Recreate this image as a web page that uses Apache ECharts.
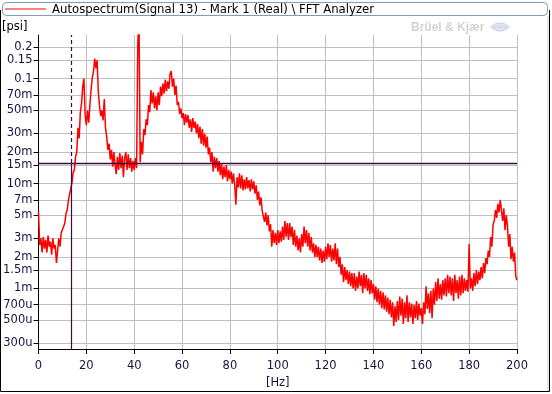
<!DOCTYPE html>
<html><head><meta charset="utf-8">
<script src="https://cdn.jsdelivr.net/npm/echarts@6/dist/echarts.min.js"></script>
<style>html,body{margin:0;padding:0;background:#fff}#c{width:552px;height:394px}</style>
</head><body><div id="c"></div>
<script>
// Frequency grid (Hz)
const freqStart = 0;
const freqStep = 0.5;
// Autospectrum amplitude in milli-psi, one value per 0.5 Hz from 0 to 200 Hz
const amplitudeMilliPsi = [
  5.4, 2.6, 3.0, 2.2, 3.1, 2.4, 2.9, 2.2, 3.2, 2.5, 2.8, 2.1, 3.0, 2.4, 2.6, 1.75, 2.3, 3.0, 2.5, 3.4,
  3.3, 3.9, 4.2, 5.2, 5.6, 6.9, 7.2, 9.0, 10.2, 12.8, 13.5, 18, 20, 34, 27, 48, 58, 85, 100, 45,
  36, 50, 38, 56, 80, 102, 118, 155, 125, 150, 75, 55, 44, 50, 40, 64, 34, 28, 21, 24,
  17, 21, 14.5, 20, 15, 12.3, 18, 13.5, 19.5, 14, 18.5, 11.5, 17.5, 20, 13.5, 19, 14, 17.5, 13, 16.5,
  13.5, 17.5, 14, 215, 400, 16, 25, 19, 33, 29, 41, 36, 56, 48, 78, 58, 74, 52, 68, 50,
  74, 56, 84, 68, 90, 72, 98, 76, 94, 80, 112, 118, 84, 100, 70, 86, 56, 60, 46, 52,
  42, 47, 36, 46, 38, 45, 34, 41, 31, 42, 34, 39, 30, 37, 27, 35, 24, 33, 23, 30,
  22, 28, 19, 22, 16, 20, 13, 18, 14, 17.5, 13, 16.5, 12, 15.5, 11, 14.5, 11.5, 15, 10.5, 13.5,
  11, 13, 10, 12.5, 9.8, 6.3, 11.5, 9.2, 12.5, 9, 12, 8.6, 11, 8.8, 11.5, 9, 10.8, 8.4, 11, 8.8,
  10.5, 8, 9.6, 7, 8.4, 6.2, 7.4, 5.5, 5.6, 4.3, 5.3, 4.0, 5.0, 3.5, 4.1, 2.5, 3.6, 2.7, 3.4, 2.6,
  3.6, 2.7, 3.5, 2.8, 3.9, 2.9, 4.4, 3.1, 4.2, 2.9, 4.2, 3.1, 3.9, 2.6, 3.6, 2.5, 3.2, 2.3, 3.0, 2.2,
  3.3, 2.5, 3.9, 2.7, 3.6, 2.5, 3.4, 2.3, 3.1, 2.2, 2.7, 2.0, 2.6, 2.0, 2.5, 1.85, 2.4, 1.75, 2.3, 1.8,
  2.5, 1.9, 2.7, 2.0, 2.6, 1.8, 2.4, 1.85, 2.7, 1.7, 2.4, 1.6, 2.0, 1.35, 1.7, 1.15, 1.6, 1.2, 1.5, 1.1,
  1.45, 1.05, 1.4, 1.0, 1.4, 0.95, 1.3, 1.0, 1.45, 1.05, 1.35, 0.9, 1.4, 1.0, 1.35, 0.95, 1.25, 0.88, 1.2, 0.9,
  1.1, 0.78, 1.05, 0.74, 1.0, 0.7, 0.95, 0.65, 0.92, 0.63, 0.86, 0.6, 0.82, 0.57, 0.78, 0.53, 0.74, 0.44, 0.68, 0.48,
  0.76, 0.5, 0.84, 0.55, 0.8, 0.46, 0.74, 0.52, 0.86, 0.48, 0.74, 0.53, 0.72, 0.46, 0.7, 0.52, 0.76, 0.5, 0.72, 0.55,
  0.65, 0.46, 0.74, 0.57, 1.05, 0.64, 0.9, 0.58, 0.95, 0.52, 1.0, 0.7, 1.15, 0.76, 1.25, 0.8, 1.1, 0.78, 1.2, 0.86,
  1.25, 0.84, 1.35, 0.9, 1.3, 0.86, 1.25, 0.76, 1.35, 0.9, 1.2, 0.8, 1.3, 0.86, 1.35, 0.9, 1.25, 0.95, 1.2, 0.93,
  2.65, 1.0, 1.25, 0.95, 1.4, 1.05, 1.5, 1.1, 1.45, 1.2, 1.6, 1.25, 1.75, 1.4, 1.95, 1.7, 2.3, 2.0, 3.1, 2.5,
  4.1, 4.4, 5.6, 4.7, 6.4, 5.3, 7.0, 5.6, 4.4, 5.8, 3.6, 5.0, 4.0, 2.5, 3.3, 1.9, 2.5, 1.8, 2.2, 1.3, 1.2
];
// Y axis tick values (psi) and their labels
const yTickValues = [0.2, 0.15, 0.1, 0.07, 0.05, 0.03, 0.02, 0.015, 0.01, 0.007, 0.005, 0.003, 0.002, 0.0015, 0.001, 0.0007, 0.0005, 0.0003];
const yTickLabels = ['0.2', '0.15', '0.1', '70m', '50m', '30m', '20m', '15m', '10m', '7m', '5m', '3m', '2m', '1.5m', '1m', '700u', '500u', '300u'];
const yRange = [0.000265, 0.2606];
const xRange = [0, 200];
const xTickStep = 20;
// Cursor (marker) position
const cursorX = 13.65;
const cursorY = 0.0157;

const titleText = 'Autospectrum(Signal 13) - Mark 1 (Real) \\ FFT Analyzer';

const seriesData = amplitudeMilliPsi.map((v, i) => [freqStart + i * freqStep, v / 1000]);

function yLabel(v) {
  for (let i = 0; i < yTickValues.length; i++) {
    if (Math.abs(v - yTickValues[i]) / yTickValues[i] < 1e-6) return yTickLabels[i];
  }
  return '';
}

const labelColor = '#141446';
const cursorColor = '#3c0c3c';
const chart = echarts.init(document.getElementById('c'), null, {renderer: 'canvas'});
chart.setOption({
  animation: false,
  backgroundColor: '#ffffff',
  grid: {left: 38, top: 35, width: 479, height: 320, containLabel: false},
  xAxis: {
    type: 'value', min: xRange[0], max: xRange[1], interval: xTickStep,
    name: '[Hz]', nameLocation: 'middle', nameGap: 28,
    nameTextStyle: {fontFamily: 'DejaVu Sans', fontSize: 11.5, color: labelColor},
    axisLine: {show: true, onZero: false, lineStyle: {color: '#000', width: 1}},
    axisTick: {show: true, inside: false, length: 5, lineStyle: {color: '#000'}},
    axisLabel: {fontFamily: 'DejaVu Sans', fontSize: 11.5, color: labelColor, margin: 11},
    splitLine: {show: true, lineStyle: {color: '#c0c0c0', width: 1}}
  },
  yAxis: {
    type: 'log', logBase: 10, min: yRange[0], max: yRange[1],
    axisLine: {show: true, lineStyle: {color: '#000', width: 1}},
    axisTick: {show: true, inside: false, length: 5, lineStyle: {color: '#000'}, customValues: yTickValues},
    axisLabel: {fontFamily: 'DejaVu Sans', fontSize: 11.5, color: labelColor, margin: 6, customValues: yTickValues, formatter: yLabel},
    splitLine: {show: true, lineStyle: {color: '#c0c0c0', width: 1}},
    minorTick: {show: false}, minorSplitLine: {show: false}
  },
  series: [{
    type: 'line', data: seriesData, showSymbol: false, symbol: 'none', clip: true,
    lineStyle: {color: '#ff0000', width: 1.5}, itemStyle: {color: '#ff0000'},
    markLine: {
      silent: true, symbol: 'none', animation: false,
      label: {show: false},
      data: [
        [{coord: [xRange[0], cursorY], lineStyle: {color: cursorColor, width: 1.3, type: 'solid'}}, {coord: [xRange[1], cursorY]}],
        [{coord: [cursorX, yRange[0]], lineStyle: {color: cursorColor, width: 1.2, type: 'solid'}}, {coord: [cursorX, cursorY]}],
        [{coord: [cursorX, cursorY], lineStyle: {color: cursorColor, width: 1.2, type: [4, 3]}}, {coord: [cursorX, yRange[1]]}]
      ]
    }
  }],
  graphic: [
    {type: 'polyline', shape: {points: [[0.5, 10], [0.5, 391.5], [549.5, 391.5], [549.5, 10]]}, style: {stroke: '#000', fill: null, lineWidth: 1}, silent: true},
    {type: 'line', shape: {x1: 548, y1: 16, x2: 548, y2: 391}, style: {stroke: '#d4d0c8', lineWidth: 1}, silent: true},
    {type: 'rect', shape: {x: 2.5, y: 2.5, width: 545, height: 13, r: 4}, style: {fill: '#fff', stroke: '#7f9db9', lineWidth: 1}, silent: true},
    {type: 'line', shape: {x1: 5, y1: 9, x2: 46, y2: 9}, style: {stroke: '#ff0000', lineWidth: 1}, silent: true},
    {type: 'text', x: 52, y: 9.5, style: {text: titleText, fontFamily: 'DejaVu Sans', fontSize: 11.7, fill: '#000', verticalAlign: 'middle', align: 'left'}, silent: true},
    {type: 'text', x: 2, y: 27.5, style: {text: '[psi]', fontFamily: 'DejaVu Sans', fontSize: 11.5, fill: '#000', verticalAlign: 'middle', align: 'left'}, silent: true},
    {type: 'text', x: 411, y: 27.5, style: {text: 'Brüel & Kjær', fontFamily: 'Liberation Sans', fontWeight: 'bold', fontSize: 12, fill: '#d2d2d2', verticalAlign: 'middle', align: 'left'}, silent: true},
    {type: 'ellipse', shape: {cx: 500, cy: 27, rx: 8, ry: 4}, style: {fill: '#dde4f0', stroke: '#c8d2e6', lineWidth: 1}, silent: true},
    {type: 'line', shape: {x1: 490, y1: 27, x2: 510, y2: 27}, style: {stroke: '#c8d2e6', lineWidth: 1}, silent: true}
  ]
});
</script>
</body></html>
